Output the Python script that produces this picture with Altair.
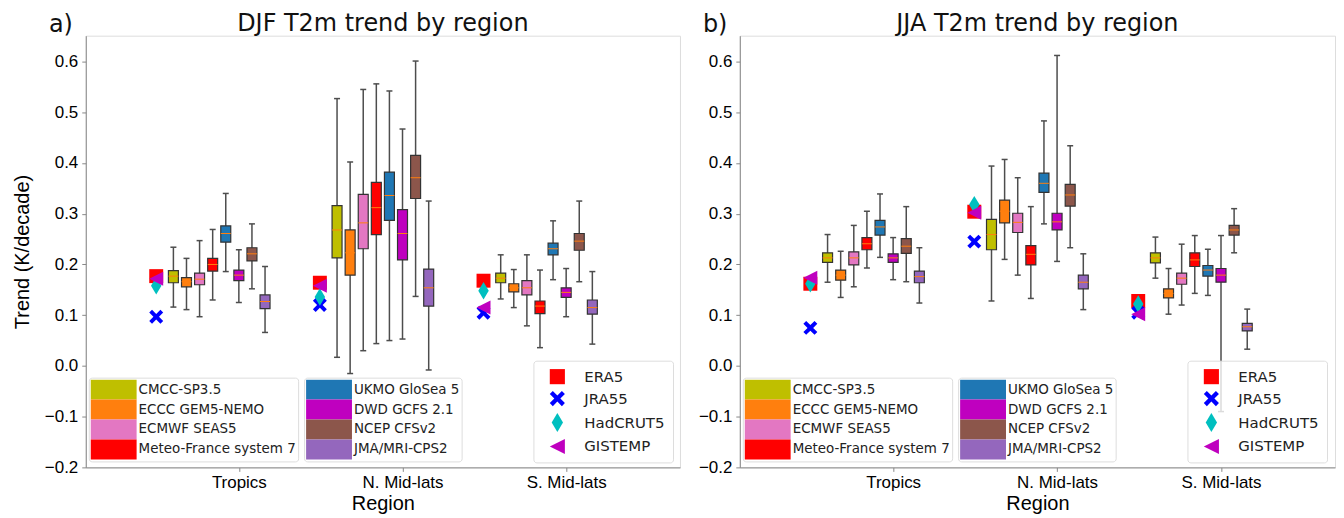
import altair as alt
import pandas as pd

# ---------------- data ----------------
regions = ["Tropics", "N. Mid-lats", "S. Mid-lats"]
models = ["CMCC-SP3.5", "ECCC GEM5-NEMO", "ECMWF SEAS5", "Meteo-France system 7",
          "UKMO GloSea 5", "DWD GCFS 2.1", "NCEP CFSv2", "JMA/MRI-CPS2"]
model_colors = ["#bfbf00", "#ff7f0e", "#e377c2", "#ff0000",
                "#1f77b4", "#bf00bf", "#8c564b", "#9467bd"]
obs_names = ["ERA5", "JRA55", "HadCRUT5", "GISTEMP"]
obs_colors = ["#ff0000", "#0000ff", "#00bfbf", "#bf00bf"]
panel_labels = ["a)", "b)"]
panel_titles = ["DJF T2m trend by region", "JJA T2m trend by region"]

# box statistics per model: [whisker low, q1, median, q3, whisker high]
djf_tropics = [[0.116, 0.164, 0.177, 0.188, 0.234], [0.111, 0.156, 0.166, 0.174, 0.212],
               [0.097, 0.160, 0.171, 0.183, 0.247], [0.130, 0.187, 0.200, 0.212, 0.269],
               [0.186, 0.244, 0.261, 0.276, 0.340], [0.125, 0.168, 0.179, 0.189, 0.229],
               [0.152, 0.207, 0.221, 0.233, 0.280], [0.066, 0.113, 0.127, 0.140, 0.196]]
djf_nmid = [[0.017, 0.213, 0.268, 0.316, 0.527], [-0.015, 0.179, 0.223, 0.268, 0.402],
            [0.030, 0.231, 0.282, 0.338, 0.545], [0.044, 0.259, 0.312, 0.362, 0.556],
            [0.050, 0.287, 0.336, 0.382, 0.542], [0.053, 0.209, 0.261, 0.308, 0.467],
            [0.137, 0.330, 0.371, 0.415, 0.601], [-0.008, 0.118, 0.154, 0.191, 0.325]]
djf_smid = [[0.132, 0.164, 0.173, 0.183, 0.219], [0.115, 0.146, 0.154, 0.162, 0.190],
            [0.079, 0.140, 0.154, 0.168, 0.219], [0.036, 0.103, 0.118, 0.128, 0.189],
            [0.170, 0.219, 0.231, 0.242, 0.286], [0.097, 0.135, 0.145, 0.154, 0.192],
            [0.166, 0.228, 0.246, 0.261, 0.325], [0.043, 0.102, 0.115, 0.130, 0.186]]
jja_tropics = [[0.165, 0.204, 0.213, 0.223, 0.259], [0.135, 0.169, 0.179, 0.189, 0.226],
               [0.156, 0.199, 0.213, 0.225, 0.277], [0.193, 0.229, 0.241, 0.253, 0.305],
               [0.214, 0.258, 0.274, 0.287, 0.339], [0.170, 0.204, 0.213, 0.221, 0.253],
               [0.166, 0.222, 0.236, 0.251, 0.314], [0.124, 0.164, 0.176, 0.187, 0.233]]
jja_nmid = [[0.128, 0.229, 0.259, 0.289, 0.394], [0.210, 0.282, 0.305, 0.327, 0.407],
            [0.179, 0.263, 0.283, 0.301, 0.371], [0.133, 0.199, 0.220, 0.237, 0.314],
            [0.280, 0.342, 0.360, 0.380, 0.483], [0.206, 0.268, 0.284, 0.301, 0.612],
            [0.233, 0.315, 0.337, 0.358, 0.434], [0.111, 0.152, 0.165, 0.179, 0.221]]
jja_smid = [[0.173, 0.203, 0.213, 0.223, 0.254], [0.102, 0.134, 0.143, 0.152, 0.192],
            [0.120, 0.161, 0.173, 0.183, 0.240], [0.143, 0.196, 0.209, 0.223, 0.257],
            [0.139, 0.177, 0.189, 0.198, 0.230], [-0.090, 0.165, 0.179, 0.192, 0.257],
            [0.223, 0.258, 0.268, 0.277, 0.310], [0.033, 0.069, 0.077, 0.084, 0.112]]

# observations per region: ERA5, JRA55, HadCRUT5, GISTEMP
djf_obs = [[0.177, 0.097, 0.158, 0.172], [0.164, 0.120, 0.136, 0.158], [0.168, 0.105, 0.148, 0.115]]
jja_obs = [[0.162, 0.075, 0.162, 0.174], [0.304, 0.245, 0.318, 0.302], [0.128, 0.105, 0.122, 0.102]]

# position offsets within a region group (in region units)
box_offsets = [-0.40, -0.32, -0.24, -0.16, -0.08, 0.0, 0.08, 0.16]
obs_offset = -0.505

# ---------------- styling ----------------
FONT = "DejaVu Sans"
X_DOMAIN = [-0.905, 2.665]
Y_DOMAIN = [-0.2, 0.651]
Y_TICKS = [-0.2, -0.1, 0.0, 0.1, 0.2, 0.3, 0.4, 0.5, 0.6]
FRAME = "#666666"
PATCH = "M-1,-1H3.6V1H-1Z"
X_SHAPE = "M-1,-0.6L-0.6,-1L0,-0.4L0.6,-1L1,-0.6L0.4,0L1,0.6L0.6,1L0,0.4L-0.6,1L-1,0.6L-0.4,0Z"
THIN_DIAMOND = "M0,-1.25L0.75,0L0,1.25L-0.75,0Z"
TRI_LEFT = "M-1,0L1,-1L1,1Z"
obs_shapes = ["square", X_SHAPE, THIN_DIAMOND, TRI_LEFT]


def model_legend(lx, ly):
    return alt.Legend(orient="none", legendX=lx, legendY=ly, title=None,
                      symbolType=PATCH, symbolSize=400, symbolStrokeWidth=0, symbolOpacity=1,
                      labelFontSize=13.5, labelFont=FONT, labelColor="#222222", labelOffset=28,
                      labelLimit=400, rowPadding=0, padding=2, strokeColor="#dddddd",
                      fillColor="rgba(255,255,255,0.8)", cornerRadius=3)


def obs_legend(lx, ly):
    return alt.Legend(orient="none", legendX=lx, legendY=ly, title=None,
                      symbolSize=230, symbolStrokeWidth=0, symbolOpacity=1, symbolOffset=8,
                      labelFontSize=15, labelFont=FONT, labelColor="#222222", labelOffset=19,
                      rowPadding=6, padding=8, strokeColor="#dddddd",
                      fillColor="rgba(255,255,255,0.8)", cornerRadius=3)


def panel(idx, stats, obs, ytitle, legA_x, legB_x):
    rows = []
    for r, reg_stats in enumerate(stats):
        for i, m in enumerate(models):
            lo, q1, med, q3, hi = reg_stats[i]
            rows.append({"model": m, "grp": 0 if i < 4 else 1, "pos": r + box_offsets[i],
                         "lo": lo, "q1": q1, "med": med, "q3": q3, "hi": hi})
    df = pd.DataFrame(rows)
    orows = []
    for r, vals in enumerate(obs):
        for j, name in enumerate(obs_names):
            orows.append({"obs": name, "pos": r + obs_offset, "val": vals[j]})
    odf = pd.DataFrame(orows)

    xaxis = alt.Axis(values=[0, 1, 2], labelExpr="%s[datum.value]" % str(regions),
                     title="Region", grid=False, tickSize=4, labelFontSize=17, titleFontSize=20,
                     labelPadding=3, titlePadding=3, titleFontWeight="normal")
    if ytitle:
        yaxis = alt.Axis(values=Y_TICKS, format=".1f", title="Trend (K/decade)", grid=False,
                         tickSize=4, labelFontSize=17, titleFontSize=20, labelPadding=4,
                         titlePadding=12, titleFontWeight="normal")
    else:
        yaxis = alt.Axis(values=Y_TICKS, format=".1f", title=None, grid=False,
                         tickSize=4, labelFontSize=17, labelPadding=4)
    xs = alt.Scale(domain=X_DOMAIN, nice=False, zero=False)
    ys = alt.Scale(domain=Y_DOMAIN, nice=False, zero=False)

    def X():
        return alt.X("pos:Q", scale=xs, axis=xaxis)

    base = alt.Chart(df)
    whisk = base.mark_rule(color="#4d4d4d", strokeWidth=1.5).encode(
        x=X(), y=alt.Y("lo:Q", scale=ys, axis=yaxis), y2="hi:Q")
    cap_lo = base.mark_tick(orient="horizontal", size=6, thickness=1.5, color="#4d4d4d", opacity=1).encode(
        x=X(), y=alt.Y("lo:Q", scale=ys, axis=yaxis))
    cap_hi = base.mark_tick(orient="horizontal", size=6, thickness=1.5, color="#4d4d4d", opacity=1).encode(
        x=X(), y=alt.Y("hi:Q", scale=ys, axis=yaxis))
    boxA = base.transform_filter("datum.grp == 0").mark_bar(
        size=10, stroke="#333333", strokeWidth=1.2, opacity=1).encode(
        x=X(), y=alt.Y("q1:Q", scale=ys, axis=yaxis), y2="q3:Q",
        fill=alt.Fill("model:N", scale=alt.Scale(domain=models[:4], range=model_colors[:4]),
                      legend=model_legend(legA_x, 343)))
    boxB = base.transform_filter("datum.grp == 1").mark_bar(
        size=10, stroke="#333333", strokeWidth=1.2, opacity=1).encode(
        x=X(), y=alt.Y("q1:Q", scale=ys, axis=yaxis), y2="q3:Q",
        fill=alt.Fill("model:N", scale=alt.Scale(domain=models[4:], range=model_colors[4:]),
                      legend=model_legend(legB_x, 343)))
    med = base.mark_tick(orient="horizontal", size=10, thickness=1, color="#ff7f0e", opacity=1).encode(
        x=X(), y=alt.Y("med:Q", scale=ys, axis=yaxis))
    pts = alt.Chart(odf).mark_point(filled=True, size=196, opacity=1, strokeWidth=0).encode(
        x=X(), y=alt.Y("val:Q", scale=ys, axis=yaxis),
        color=alt.Color("obs:N", scale=alt.Scale(domain=obs_names, range=obs_colors),
                        legend=obs_legend(449, 326)),
        shape=alt.Shape("obs:N", scale=alt.Scale(domain=obs_names, range=obs_shapes),
                        legend=obs_legend(449, 326)))
    lab = alt.Chart(pd.DataFrame({"t": [panel_labels[idx]]})).mark_text(
        fontSize=24, font=FONT, align="left", baseline="alphabetic", color="#111111").encode(
        text="t:N", x=alt.value(-37), y=alt.value(-4))

    layer = alt.layer(whisk, cap_lo, cap_hi, boxA, boxB, med, pts, lab).resolve_scale(
        fill="independent").resolve_legend(fill="independent").properties(
        width=596 if idx == 0 else 597, height=433,
        title=alt.TitleParams(panel_titles[idx], fontSize=24, font=FONT, fontWeight="normal",
                              anchor="middle", offset=-23, color="#111111"))
    return layer


left = panel(0, [djf_tropics, djf_nmid, djf_smid], djf_obs, True, 3, 219)
right = panel(1, [jja_tropics, jja_nmid, jja_smid], jja_obs, False, 3, 219)

chart = alt.hconcat(left, right, spacing=60, bounds="flush").resolve_scale(
    x="independent", y="independent", fill="independent", color="independent", shape="independent"
).resolve_legend(fill="independent", color="independent", shape="independent").properties(
    padding={"left": 3, "top": 2, "right": 0, "bottom": 0}
).configure_view(stroke=FRAME, strokeWidth=1).configure_axis(
    domainColor=FRAME, tickColor=FRAME, labelFont=FONT, titleFont=FONT,
    labelColor="#222222", titleColor="#222222"
).configure(background="white")

chart.save("out.html", embed_options={"renderer": "svg", "actions": False})
